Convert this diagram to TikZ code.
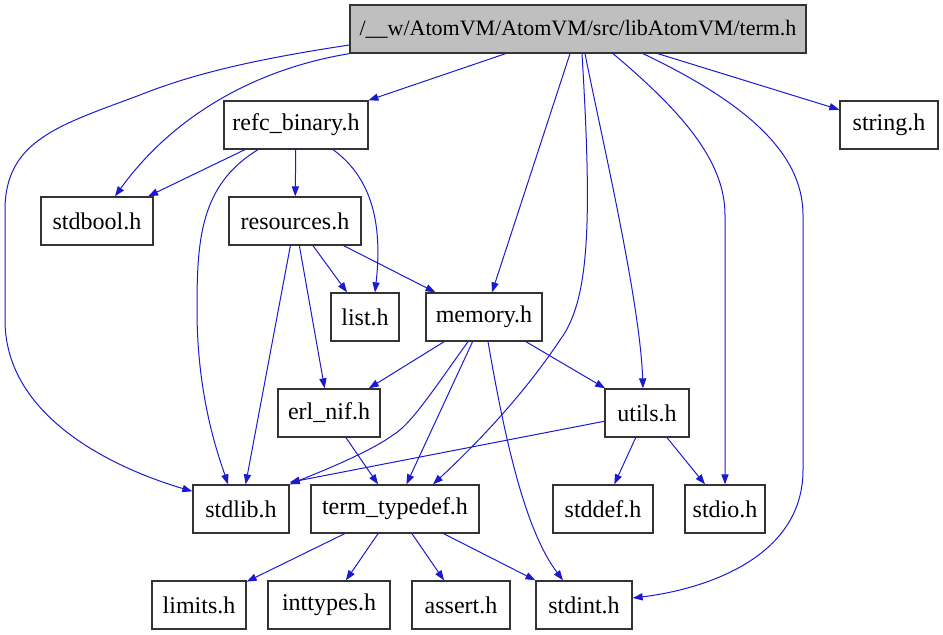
\documentclass[tikz,border=0pt]{standalone}
\usepackage{fontspec}
\setmainfont{Liberation Serif}
\usepackage{tikz}
\usetikzlibrary{positioning, arrows.meta, calc}
\definecolor{edgeblue}{RGB}{26,26,208}
\definecolor{rootgray}{RGB}{191,191,191}
\tikzset{
  header/.style={rectangle, minimum height=24pt, inner sep=0pt, align=center, draw=black!80, line width=0.65pt, fill=white, font=\fontsize{12}{14}\selectfont},
  root/.style={header, fill=rootgray, font=\fontsize{11}{13}\selectfont},
  arrow/.style={edgeblue, line width=0.5pt, -{Triangle[length=5pt,width=3.6pt]}}
}
\begin{document}
\begin{tikzpicture}[x=0.5pt, y=-0.5pt]
        \useasboundingbox (0,0) rectangle (943,635);

        % Fila superior
        \node (term) [root, minimum width=228pt] at (578,29) {/\_\_w/AtomVM/AtomVM/src/libAtomVM/term.h};
        \node (refc) [header, minimum width=72pt] at (296,125) {refc\_binary.h};
        \node (string) [header, minimum width=49pt] at (889,125) {string.h};
        \node (stdbool) [header, minimum width=56pt] at (97,221) {stdbool.h};
        \node (resources) [header, minimum width=66pt] at (295,221) {resources.h};
        \node (list) [header, minimum width=34pt] at (365,317) {list.h};
        \node (memory) [header, minimum width=58pt] at (484,317) {memory.h};
        \node (erlnif) [header, minimum width=51pt] at (329,413) {erl\_nif.h};
        \node (utils) [header, minimum width=42pt] at (647,413) {utils.h};

        % Fila inferior
        \node (stdlib) [header, minimum width=48pt] at (241,509) {stdlib.h};
        \node (typedef) [header, minimum width=84pt] at (395,509) {term\_typedef.h};
        \node (stddef) [header, minimum width=50pt] at (603,509) {stddef.h};
        \node (stdio) [header, minimum width=40pt] at (725,509) {stdio.h};
        \node (limits) [header, minimum width=47pt] at (199,605) {limits.h};
        \node (inttypes) [header, minimum width=61pt] at (329,605) {inttypes.h};
        \node (assert) [header, minimum width=49pt] at (461,605) {assert.h};
        \node (stdint) [header, minimum width=48pt] at (584,605) {stdint.h};

        % Includes de term.h
        \draw [arrow] (term) -- (refc);
        \draw [arrow] (term) -- (string);
        \draw [arrow] ($(term.south)+(-8,0)$) -- ($(memory.north)+(8,0)$);
        \draw [arrow] (term.south west) .. controls (250,70) and (170,120) .. ($(stdbool.north)+(18,0)$);
        \draw [arrow] ($(term.west)+(0,16)$) .. controls (250,60) and (190,75) .. (140,95)
              .. controls (60,125) and (5,140) .. (5,210) -- (5,320)
              .. controls (5,420) and (120,470) .. ($(stdlib.north west)+(0,7)$);
        \draw [arrow] ($(term.south)+(4,0)$) .. controls (592,220) and (590,300) .. (560,340)
              .. controls (520,400) and (470,450) .. ($(typedef.north)+(38,0)$);
        \draw [arrow] ($(term.south)+(7,0)$) .. controls (600,130) and (640,300) .. ($(utils.north)+(-4,0)$);
        \draw [arrow] ($(term.south)+(35,0)$) .. controls (680,110) and (725,160) .. (725,215) -- (stdio.north);
        \draw [arrow] ($(term.south)+(65,0)$) .. controls (740,100) and (803,150) .. (803,215) -- (803,470)
              .. controls (803,560) and (700,590) .. ($(stdint.east)+(0,-7)$);

        % Includes de refc_binary.h
        \draw [arrow] (refc) -- (stdbool);
        \draw [arrow] (refc) -- (resources);
        \draw [arrow] ($(refc.south)+(-38,0)$) .. controls (200,185) and (197,240) .. (197,310)
              .. controls (197,400) and (220,460) .. ($(stdlib.north)+(-13,0)$);
        \draw [arrow] ($(refc.south)+(37,0)$) .. controls (375,180) and (382,230) .. ($(list.north)+(10,0)$);

        % Includes de resources.h
        \draw [arrow] (resources) -- (list);
        \draw [arrow] (resources) -- (memory);
        \draw [arrow] (resources) -- (erlnif);
        \draw [arrow] (resources) -- (stdlib);

        % Includes de memory.h
        \draw [arrow] (memory) -- (erlnif);
        \draw [arrow] (memory) -- (typedef);
        \draw [arrow] (memory) -- (utils);
        \draw [arrow] ($(memory.south)+(-16,0)$) .. controls (430,395) and (410,425) .. (393,435)
              .. controls (370,452) and (320,472) .. (stdlib.north east);
        \draw [arrow] ($(memory.south)+(4,0)$) .. controls (505,440) and (525,530) .. ($(stdint.north)+(-21,0)$);

        % Resto
        \draw [arrow] (erlnif) -- (typedef);
        \draw [arrow] (utils) -- ($(stdlib.north east)+(0,-2)$);
        \draw [arrow] (utils) -- (stddef);
        \draw [arrow] (utils) -- (stdio);
        \draw [arrow] (typedef) -- (limits);
        \draw [arrow] (typedef) -- (inttypes);
        \draw [arrow] (typedef) -- (assert);
        \draw [arrow] (typedef) -- (stdint);

    \end{tikzpicture}
\end{document}
